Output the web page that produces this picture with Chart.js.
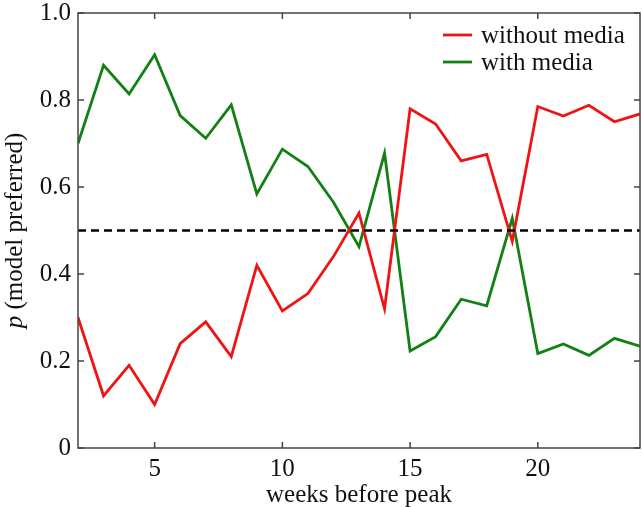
<!DOCTYPE html>
<html lang="en">
<head>
    <meta charset="UTF-8">
    <title>Model preference by week</title>
    <script src="https://cdn.jsdelivr.net/npm/chart.js"></script>
    <style>
        html, body { margin: 0; padding: 0; background: #fff; }
        #wrap { width: 642px; height: 507px; }
    </style>
</head>
<body>
    <div id="wrap"><canvas id="prefChart"></canvas></div>
    <script>
        const weeks = [2, 3, 4, 5, 6, 7, 8, 9, 10, 11, 12, 13, 14, 15, 16, 17, 18, 19, 20, 21, 22, 23, 24];
        const withoutMedia = [0.30, 0.12, 0.19, 0.10, 0.24, 0.29, 0.21, 0.42, 0.315, 0.355, 0.44, 0.54, 0.32, 0.78, 0.745, 0.66, 0.675, 0.475, 0.785, 0.763, 0.788, 0.75, 0.768];
        const withMedia = [0.70, 0.88, 0.814, 0.904, 0.764, 0.712, 0.789, 0.584, 0.687, 0.647, 0.565, 0.463, 0.678, 0.223, 0.256, 0.342, 0.327, 0.528, 0.217, 0.239, 0.213, 0.252, 0.234];
        const threshold = 0.5;
        const xTicks = [5, 10, 15, 20];
        const yTicks = [0, 0.2, 0.4, 0.6, 0.8, 1.0];

        const serif = "'Liberation Serif', 'DejaVu Serif', serif";
        const frameColor = '#444';

        // frame, inside ticks, legend and the italic y title
        const decor = {
            id: 'decor',
            afterDraw(chart) {
                const ctx = chart.ctx;
                const a = chart.chartArea;
                const xs = chart.scales.x, ys = chart.scales.y;
                ctx.save();
                ctx.strokeStyle = frameColor;
                ctx.lineWidth = 1.5;
                ctx.strokeRect(a.left, a.top, a.right - a.left, a.bottom - a.top);
                ctx.beginPath();
                xTicks.forEach(v => {
                    const px = xs.getPixelForValue(v);
                    ctx.moveTo(px, a.bottom); ctx.lineTo(px, a.bottom - 6);
                    ctx.moveTo(px, a.top); ctx.lineTo(px, a.top + 6);
                });
                yTicks.forEach(v => {
                    const py = ys.getPixelForValue(v);
                    ctx.moveTo(a.left, py); ctx.lineTo(a.left + 6, py);
                    ctx.moveTo(a.right, py); ctx.lineTo(a.right - 6, py);
                });
                ctx.stroke();

                // legend
                ctx.font = '25px ' + serif;
                ctx.textBaseline = 'middle';
                ctx.textAlign = 'left';
                chart.data.datasets.filter(d => d.inLegend).forEach((d, i) => {
                    const y = 35 + i * 27;
                    ctx.strokeStyle = d.borderColor;
                    ctx.lineWidth = 2.8;
                    ctx.beginPath();
                    ctx.moveTo(443, y); ctx.lineTo(472, y);
                    ctx.stroke();
                    ctx.fillStyle = '#111';
                    ctx.fillText(d.label, 481, y + 1);
                });

                // y axis title
                const cy = (a.top + a.bottom) / 2;
                ctx.translate(15, cy);
                ctx.rotate(-Math.PI / 2);
                ctx.font = 'italic 25px ' + serif;
                const wp = ctx.measureText('p').width;
                ctx.font = '25px ' + serif;
                const rest = ' (model preferred)';
                const wr = ctx.measureText(rest).width;
                const x0 = -(wp + wr) / 2;
                ctx.fillStyle = '#111';
                ctx.font = 'italic 25px ' + serif;
                ctx.fillText('p', x0, 0);
                ctx.font = '25px ' + serif;
                ctx.fillText(rest, x0 + wp, 0);
                ctx.restore();
            }
        };

        new Chart(document.getElementById('prefChart'), {
            type: 'line',
            data: {
                datasets: [
                    {
                        label: 'threshold',
                        data: [{ x: weeks[0], y: threshold }, { x: weeks[weeks.length - 1], y: threshold }],
                        borderColor: '#000',
                        borderWidth: 2.6,
                        borderDash: [8, 5],
                        pointRadius: 0,
                        order: 0
                    },
                    {
                        label: 'without media',
                        inLegend: true,
                        data: weeks.map((w, i) => ({ x: w, y: withoutMedia[i] })),
                        borderColor: 'rgb(238, 20, 20)',
                        borderWidth: 2.8,
                        pointRadius: 0,
                        tension: 0,
                        order: 1
                    },
                    {
                        label: 'with media',
                        inLegend: true,
                        data: weeks.map((w, i) => ({ x: w, y: withMedia[i] })),
                        borderColor: 'rgb(18, 128, 18)',
                        borderWidth: 2.8,
                        pointRadius: 0,
                        tension: 0,
                        order: 2
                    }
                ]
            },
            options: {
                responsive: true,
                maintainAspectRatio: false,
                animation: false,
                layout: { padding: { left: 0, top: 13, right: 2, bottom: -1 } },
                plugins: {
                    legend: { display: false },
                    tooltip: { enabled: false }
                },
                scales: {
                    x: {
                        type: 'linear',
                        min: 2,
                        max: 24,
                        afterBuildTicks: s => { s.ticks = xTicks.map(v => ({ value: v })); },
                        afterFit: s => { s.height = 60; s.paddingLeft = 0; s.paddingRight = 0; },
                        grid: { display: false, drawTicks: false },
                        border: { display: false },
                        ticks: {
                            padding: 6,
                            color: '#111',
                            font: { family: serif, size: 25 },
                            maxRotation: 0
                        },
                        title: {
                            display: true,
                            text: 'weeks before peak',
                            color: '#111',
                            font: { family: serif, size: 25, lineHeight: 1 },
                            padding: 0
                        }
                    },
                    y: {
                        min: 0,
                        max: 1,
                        afterBuildTicks: s => { s.ticks = yTicks.map(v => ({ value: v })); },
                        afterFit: s => { s.width = 78; s.paddingTop = 0; s.paddingBottom = 0; },
                        grid: { display: false, drawTicks: false },
                        border: { display: false },
                        ticks: {
                            padding: 7,
                            color: '#111',
                            font: { family: serif, size: 25 },
                            callback: v => v === 0 ? '0' : v.toFixed(1)
                        }
                    }
                }
            },
            plugins: [decor]
        });
    </script>
</body>
</html>
